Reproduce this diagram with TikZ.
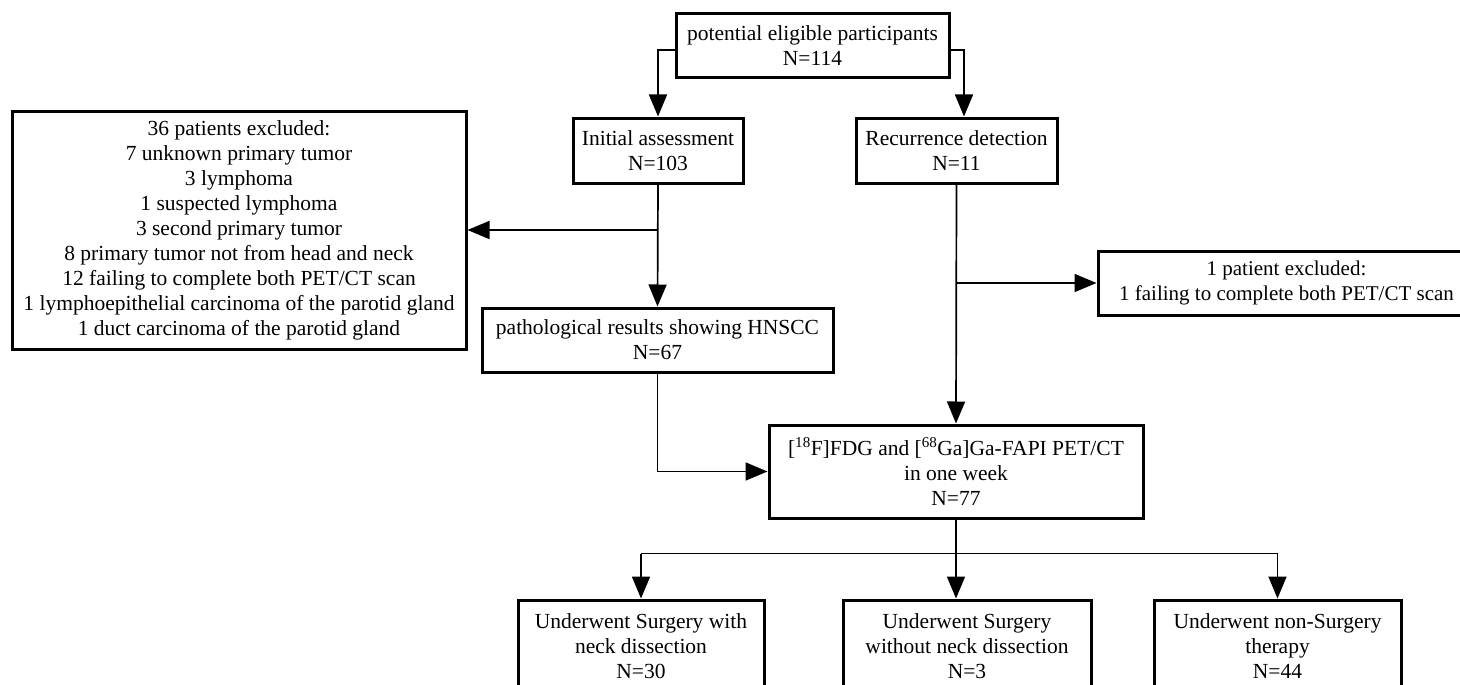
\documentclass[tikz,border=0pt]{standalone}
\usepackage{fontspec}
\setmainfont{Liberation Serif}
\usetikzlibrary{arrows.meta,calc}
\begin{document}
\begin{tikzpicture}[x=1pt,y=-1pt,
  box/.style={draw=black,line width=3pt,align=center,inner sep=0pt,fill=white,
    font=\fontsize{21.5}{25}\selectfont},
  conn/.style={draw=black,line width=1.7pt},
  arr/.style={conn,-{Triangle[length=22pt,width=18pt]}}]
\useasboundingbox (0,0) rectangle (1460,685);
\clip (0,0) rectangle (1460,685);
\fill[white] (0,0) rectangle (1460,685);
% nodes
\node[box,minimum width=273pt,minimum height=64pt] (top) at (812.5,46) {potential eligible participants\\N=114};
\node[box,minimum width=170pt,minimum height=65pt] (init) at (658,150.5) {Initial assessment\\N=103};
\node[box,minimum width=201pt,minimum height=65pt] (rec) at (956.5,150.5) {Recurrence detection\\N=11};
\node[box,minimum width=454pt,minimum height=238pt] (excl) at (239,230) {36 patients excluded:\\7 unknown primary tumor\\3 lymphoma\\1 suspected lymphoma\\3 second primary tumor\\8 primary tumor not from head and neck\\12 failing to complete both PET/CT scan\\1 lymphoepithelial carcinoma of the parotid gland\\1 duct carcinoma of the parotid gland};
\node[box,minimum width=351pt,minimum height=64pt] (path) at (657.5,340) {pathological results showing HNSCC\\N=67};
\node[box,minimum width=377pt,minimum height=64pt,font=\fontsize{21}{25}\selectfont] (excl2) at (1286.5,283) {1 patient excluded:\\1 failing to complete both PET/CT scan};
\node[box,minimum width=374pt,minimum height=93pt] (fdg) at (956,471.5) {[\textsuperscript{18}F]FDG and [\textsuperscript{68}Ga]Ga-FAPI PET/CT\\in one week\\N=77};
\node[box,minimum width=246pt,minimum height=93pt] (b1) at (641,646.5) {Underwent Surgery with\\neck dissection\\N=30};
\node[box,minimum width=248pt,minimum height=93pt] (b2) at (967,646.5) {Underwent Surgery\\without neck dissection\\N=3};
\node[box,minimum width=247pt,minimum height=93pt] (b3) at (1277.5,646.5) {Underwent non-Surgery\\therapy\\N=44};
% connectors
\coordinate (recin) at ($(rec.north)+(7.5,0)$);
\draw[arr] ($(top.west)+(0,4)$) -| (init.north);
\draw[arr] ($(top.east)+(0,4)$) -| (recin);
\draw[arr] (init.south) -- (path.north);
\coordinate (j1) at (init.south |- excl.east);
\draw[arr] (j1) -- (excl.east);
\draw[arr] (path.south) |- (fdg.west);
\draw[arr] (rec.south) -- (fdg.north);
\coordinate (j2) at (rec.south |- excl2.west);
\draw[arr] (j2) -- (excl2.west);
\coordinate (hb) at ($(fdg.south)+(0,34)$);
\draw[conn] (fdg.south) -- (hb);
\draw[conn] (b1.north |- hb) -- (b3.north |- hb);
\draw[arr] (hb) -- (hb |- b2.north);
\draw[arr] (b1.north |- hb) -- (b1.north);
\draw[arr] (b3.north |- hb) -- (b3.north);
\end{tikzpicture}
\end{document}
